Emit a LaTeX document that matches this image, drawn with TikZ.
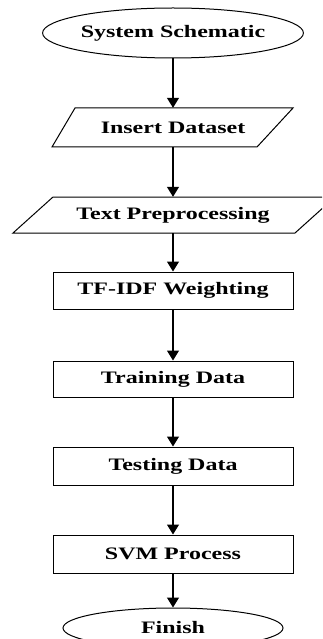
\documentclass[tikz,border=0pt]{standalone}
\usepackage{fontspec}
\setmainfont{Liberation Serif}[FakeStretch=1.37]
\usetikzlibrary{shapes.geometric,arrows.meta}
\begin{document}
\begin{tikzpicture}[x=1pt, y=-1pt,
        every node/.style={font=\fontsize{17.5}{20}\selectfont\bfseries, inner sep=0pt},
        terminal/.style={draw=black, ellipse, line width=1pt},
        stepbox/.style={draw=black, rectangle, line width=1pt, minimum width=240pt},
        flow/.style={draw=black, -{Triangle[width=12pt,length=10pt]}, line width=1.2pt}]
            \useasboundingbox (0,0) rectangle (322,639);
            \clip (0,0) rectangle (322,639);
            % terminals and steps
            \node[terminal, minimum width=232pt, minimum height=50pt] (start) at (173,33) {System Schematic};
            \draw[draw=black, line width=1pt] (52,147) -- (75,108) -- (293,108) -- (257,147) -- cycle;
            \node[minimum height=39pt] (insert) at (173,127.5) {Insert Dataset};
            \draw[draw=black, line width=1pt] (13,233) -- (53,197) -- (335,197) -- (295,233) -- cycle;
            \node[minimum height=36pt] (prep) at (173,215) {Text Preprocessing};
            \node[stepbox, minimum height=37pt] (tfidf) at (173,290.5) {TF-IDF Weighting};
            \node[stepbox, minimum height=36pt] (train) at (173,379) {Training Data};
            \node[stepbox, minimum height=38pt] (test) at (173,466) {Testing Data};
            \node[stepbox, minimum height=38pt] (svm) at (173,554) {SVM Process};
            \node[terminal, minimum width=220pt, minimum height=40pt] (finish) at (173,628) {Finish};
            % connectors
            \draw[flow] (start) -- (insert);
            \draw[flow] (insert) -- (prep);
            \draw[flow] (prep) -- (tfidf);
            \draw[flow] (tfidf) -- (train);
            \draw[flow] (train) -- (test);
            \draw[flow] (test) -- (svm);
            \draw[flow] (svm) -- (finish);
        \end{tikzpicture}
\end{document}
